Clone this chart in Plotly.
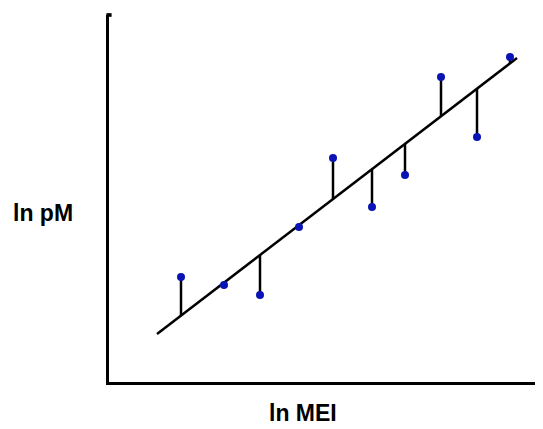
import plotly.graph_objects as go

# Data (arbitrary units)
mei = [7.2, 11.5, 15.1, 19.0, 22.4, 26.3, 29.6, 33.2, 36.8, 40.1]
pm = [10.5, 9.7, 8.7, 15.5, 22.4, 17.5, 20.7, 30.5, 24.5, 32.5]
pm_fit = [6.64, 9.94, 12.7, 15.7, 18.3, 21.3, 23.8, 26.6, 29.3, 31.9]
line_x = [4.8, 40.8]
line_y = [4.8, 32.4]

fig = go.Figure()

# residual stems
sx, sy = [], []
for x, y, f in zip(mei, pm, pm_fit):
    sx += [x, x, None]
    sy += [y, f, None]
fig.add_trace(go.Scatter(x=sx, y=sy, mode="lines",
                         line=dict(color="black", width=2.5),
                         hoverinfo="skip", showlegend=False))
# regression line
fig.add_trace(go.Scatter(x=line_x, y=line_y, mode="lines",
                         line=dict(color="black", width=2.5),
                         showlegend=False))
# data points
fig.add_trace(go.Scatter(x=mei, y=pm, mode="markers",
                         marker=dict(color="#0a14b4", size=8, symbol="circle"),
                         showlegend=False))

fig.update_layout(
    width=535, height=421,
    margin=dict(l=101, r=2, t=7, b=47),
    plot_bgcolor="white", paper_bgcolor="white",
    xaxis=dict(range=[0, 43.2], showgrid=False, zeroline=False,
               showticklabels=False, ticks="", showline=True,
               linecolor="black", linewidth=2.5),
    yaxis=dict(range=[0, 36.7], showgrid=False, zeroline=False,
               showticklabels=False, ticks="", showline=True,
               linecolor="black", linewidth=2.5),
    annotations=[
        dict(text="<b>ln pM</b>", xref="paper", yref="paper",
             x=-0.153, y=0.46, showarrow=False, xanchor="center", yanchor="middle",
             font=dict(family="Liberation Sans, Arial", size=23, color="black")),
        dict(text="<b>ln MEI</b>", xref="paper", yref="paper",
             x=0.449, y=-0.0845, showarrow=False, xanchor="center", yanchor="middle",
             font=dict(family="Liberation Sans, Arial", size=23, color="black")),
    ],
    shapes=[
        dict(type="rect", xref="paper", yref="paper",
             x0=-0.006, x1=0.006, y0=0.995, y1=1.005,
             fillcolor="black", line=dict(width=0)),
        dict(type="rect", xref="paper", yref="paper",
             x0=0.993, x1=1.0, y0=-0.008, y1=0.008,
             fillcolor="black", line=dict(width=0)),
    ],
)

fig.write_html("out.html")
